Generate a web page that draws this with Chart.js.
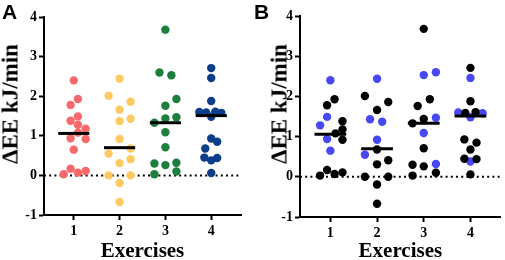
<!DOCTYPE html>
<html><head><meta charset="utf-8">
<script src="https://cdn.jsdelivr.net/npm/chart.js@4.4.0/dist/chart.umd.min.js"></script>
<style>
html,body{margin:0;padding:0;background:#fff;}
#wrap{position:relative;width:505px;height:260px;overflow:hidden;background:#fff;}
.panel{position:absolute;top:0;}
.lbl{position:absolute;font-family:'Liberation Sans',Arial,sans-serif;font-weight:bold;font-size:21px;line-height:1;color:#000;}
.ytitle{position:absolute;font-family:'Liberation Serif','Times New Roman',serif;font-weight:bold;font-size:23px;line-height:1;color:#000;white-space:nowrap;transform:translate(-50%,-50%) rotate(-90deg);}
</style></head><body>
<div id="wrap">
<div class="panel" style="left:0;width:250px;height:260px"><canvas id="cA" width="250" height="260"></canvas></div>
<div class="panel" style="left:250px;width:255px;height:260px"><canvas id="cB" width="255" height="260"></canvas></div>
<div class="lbl" style="left:2px;top:1px">A</div>
<div class="lbl" style="left:254px;top:1px">B</div>
<div class="ytitle" id="tA" style="left:9.5px;top:104px"></div>
<div class="ytitle" id="tB" style="left:279px;top:104px"></div>
</div>
<script>
// ---- data ----
const exercises = ['1', '2', '3', '4'];
const yTickValues = [-1, 0, 1, 2, 3, 4];
const yAxisTitle = 'ΔEE kJ/min';
const xAxisTitle = 'Exercises';

const ex1Values = [2.40, 1.93, 1.78, 1.49, 1.38, 1.28, 1.18, 1.08, 0.94, 0.92, 0.65, 0.17, 0.11, 0.07, 0.03];
const ex2Values = [2.44, 2.01, 1.86, 1.66, 1.43, 1.37, 0.92, 0.68, 0.55, 0.41, 0.31, 0.00, 0.00, -0.19, -0.67];
const ex3Values = [3.68, 2.60, 2.53, 1.93, 1.76, 1.47, 1.44, 1.33, 1.09, 0.71, 0.32, 0.30, 0.26, 0.10, 0.03];
const ex4Values = [2.71, 2.46, 1.88, 1.60, 1.59, 1.61, 1.58, 1.48, 0.93, 0.85, 0.68, 0.45, 0.44, 0.38, 0.06];

// horizontal scatter of each point around its category (category units)
const ex1JitterA = [0, .09, -.07, .09, -.07, .09, .26, .09, -.07, .26, 0, -.07, .26, .09, -.22];
const ex2JitterA = [0, -.24, .24, 0, .24, 0, 0, .24, -.24, .24, 0, -.24, .24, 0, 0];
const ex3JitterA = [0, -.13, .13, .24, 0, .24, 0, -.24, 0, 0, .24, -.24, 0, .24, -.24];
const ex4JitterA = [0, 0, 0, -.26, -.11, .09, .22, 0, 0, .13, -.13, -.15, .13, 0, 0];

const ex1JitterB = [0, .09, -.07, -.07, .26, -.22, .26, .11, -.07, .26, 0, -.07, .26, .09, -.22];
const ex2JitterB = [0, -.26, .24, 0, -.15, .11, 0, 0, -.26, .24, 0, -.26, .24, 0, 0];
const ex3JitterB = [0, .26, 0, .13, -.13, .26, 0, -.24, 0, 0, .26, -.24, 0, .26, -.24];
const ex4JitterB = [0, 0, 0, -.26, -.11, .11, .26, 0, -.13, .13, 0, -.13, .13, 0, 0];

// panel B subgroup (1 = blue, 0 = black)
const ex1GroupB = [1, 0, 0, 1, 0, 1, 0, 0, 1, 0, 1, 0, 0, 0, 0];
const ex2GroupB = [1, 0, 0, 0, 1, 1, 1, 0, 1, 0, 0, 0, 0, 0, 0];
const ex3GroupB = [0, 1, 1, 0, 0, 1, 0, 0, 1, 0, 1, 0, 0, 0, 0];
const ex4GroupB = [0, 1, 0, 1, 0, 0, 1, 1, 0, 0, 0, 0, 0, 1, 0];

const medians = [1.06, 0.70, 1.33, 1.51];

// ---- styles ----
const colorsA = ['#F7696B', '#FDCB62', '#1D7F3D', '#0C3D8B'];
const blueB = '#4747F3';
const blackB = '#000000';
const X_MIN = 0.35, X_MAX = 4.65, MED_HALF = 0.34;
const serif = "'Liberation Serif','Times New Roman',serif";

document.getElementById('tA').textContent = yAxisTitle;
document.getElementById('tB').textContent = yAxisTitle;

const allValues = [ex1Values, ex2Values, ex3Values, ex4Values];
const jitA = [ex1JitterA, ex2JitterA, ex3JitterA, ex4JitterA];
const jitB = [ex1JitterB, ex2JitterB, ex3JitterB, ex4JitterB];
const grpB = [ex1GroupB, ex2GroupB, ex3GroupB, ex4GroupB];

function medianSets() {
  return medians.map((m, i) => ({
    type: 'line', showLine: true, order: 0,
    data: [{x: i + 1 - MED_HALF, y: m}, {x: i + 1 + MED_HALF, y: m}],
    borderColor: '#000', borderWidth: 3, pointRadius: 0, borderCapStyle: 'butt'
  }));
}
function zeroSet(order) {
  return {
    type: 'line', showLine: true, order: order,
    data: [{x: X_MIN, y: 0}, {x: X_MAX, y: 0}],
    borderColor: '#000', borderWidth: 2, borderDash: [2, 3.2], pointRadius: 0, clip: false
  };
}

function makeOptions(cfg) {
  return {
    responsive: false, animation: false,
    layout: {padding: {top: cfg.top, right: cfg.right, left: 0, bottom: 0}},
    plugins: {legend: {display: false}, tooltip: {enabled: false}},
    scales: {
      x: {
        type: 'linear', min: X_MIN, max: X_MAX,
        afterFit: s => { s.height = cfg.xH; },
        afterBuildTicks: s => { s.ticks = exercises.map((e, i) => ({value: i + 1})); },
        ticks: {
          padding: 3, color: '#000', maxRotation: 0, autoSkip: false,
          font: {family: serif, weight: 'bold', size: 14},
          callback: (v) => exercises[Math.round(v) - 1]
        },
        grid: {drawOnChartArea: false, drawTicks: true, tickLength: 5, tickWidth: 2, tickColor: '#000'},
        border: {display: true, color: '#000', width: 2},
        title: {display: true, text: xAxisTitle, color: '#000',
          font: {family: serif, weight: 'bold', size: 21, lineHeight: 0.8}, padding: {top: 0, bottom: 0}}
      },
      y: {
        type: 'linear', min: -1, max: 4,
        afterFit: s => { s.width = cfg.yW; },
        afterBuildTicks: s => { s.ticks = yTickValues.map(v => ({value: v})); },
        ticks: {padding: 2, color: '#000', font: {family: serif, weight: 'bold', size: 14},
          callback: v => String(v)},
        grid: {drawOnChartArea: false, drawTicks: true, tickLength: 5, tickWidth: 2, tickColor: '#000'},
        border: {display: true, color: '#000', width: 2},
        title: {display: false}
      }
    }
  };
}

// Panel A
const dsA = allValues.map((vals, i) => ({
  type: 'scatter', order: 1,
  data: vals.map((v, j) => ({x: i + 1 + jitA[i][j], y: v})),
  backgroundColor: colorsA[i], borderColor: colorsA[i], borderWidth: 0, pointRadius: 4.2
})).concat(medianSets(), [zeroSet(2)]);

new Chart(document.getElementById('cA'), {
  type: 'scatter',
  data: {datasets: dsA},
  options: makeOptions({top: 17, right: 9, xH: 45, yW: 44})
});

// Panel B
function groupPoints(g) {
  const out = [];
  allValues.forEach((vals, i) => vals.forEach((v, j) => {
    if (grpB[i][j] === g) out.push({x: i + 1 + jitB[i][j], y: v});
  }));
  return out;
}
const dsB = [
  {type: 'scatter', order: 2, data: groupPoints(1), backgroundColor: blueB, borderWidth: 0, pointRadius: 4.2},
  {type: 'scatter', order: 1, data: groupPoints(0), backgroundColor: blackB, borderWidth: 0, pointRadius: 4.2}
].concat(medianSets(), [zeroSet(3)]);

new Chart(document.getElementById('cB'), {
  type: 'scatter',
  data: {datasets: dsB},
  options: makeOptions({top: 16, right: 4, xH: 43, yW: 50})
});
</script>
</body></html>
